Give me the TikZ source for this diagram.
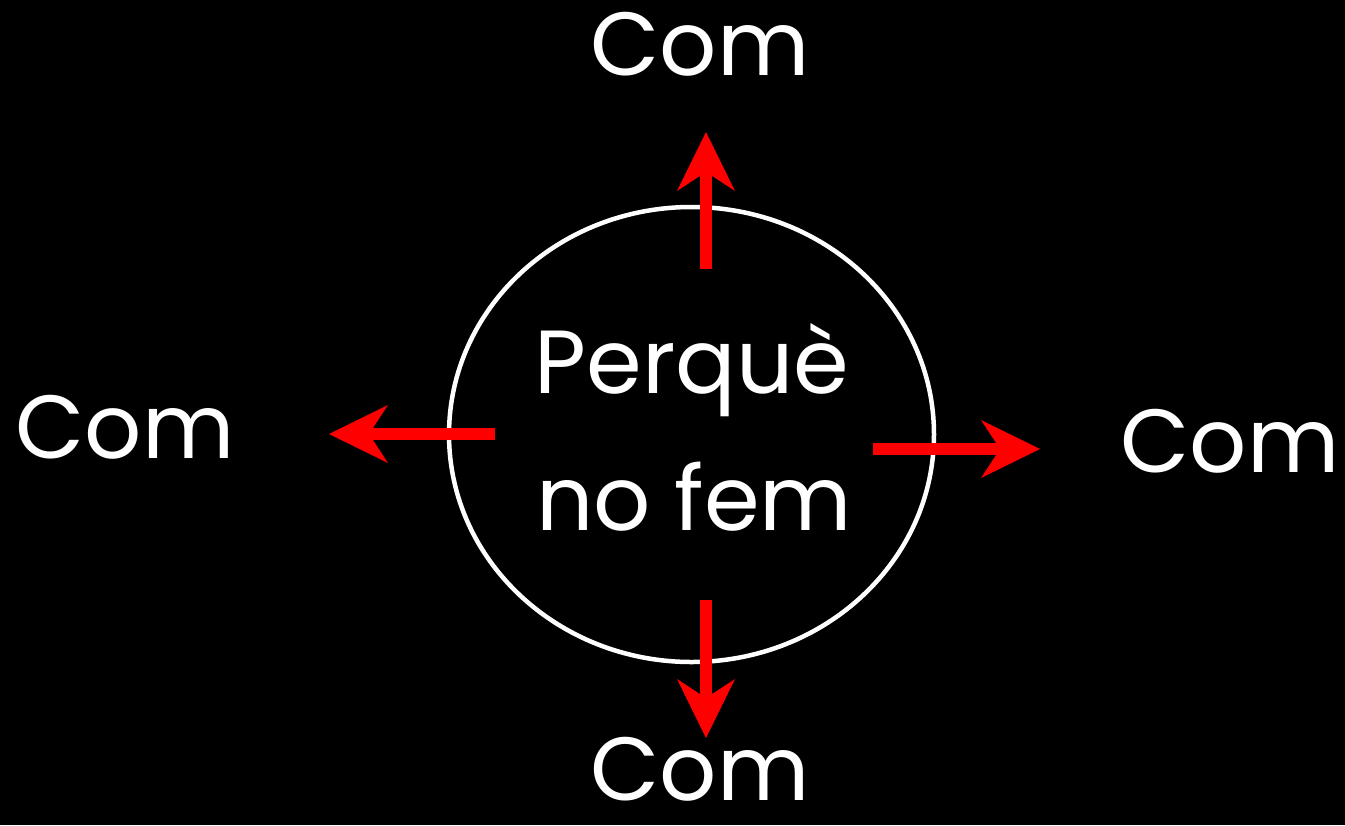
\documentclass[tikz,border=0pt]{standalone}
\usepackage{fontspec}
\setmainfont{Poppins}
\usetikzlibrary{arrows.meta}
\definecolor{arrowred}{RGB}{255,0,0}
\tikzset{
  lbl/.style={text=white, inner sep=0pt, font=\fontsize{51}{60}\selectfont, anchor=base},
  redarrow/.style={draw=arrowred, line width=0.24cm,
    -{Stealth[length=1.18cm, width=1.16cm, inset=0.38cm, line width=0pt, fill=arrowred]}},
}
\begin{document}
\begin{tikzpicture}[x=0.02cm, y=-0.02cm]
\fill[black] (0,0) rectangle (1345,825);
\useasboundingbox (0,0) rectangle (1345,825);
\draw[white, line width=0.09cm] (691.5,434.5) ellipse [x radius=242.5, y radius=227.5];
% centre text
\node[lbl] (l1) at (692,393) {Perquè};
\node[lbl] (l2) at (694,530) {no fem};
% outer labels
\node[lbl] (top) at (700,75) {Com};
\node[lbl] (bot) at (700,800) {Com};
\node[lbl] (lft) at (125,458) {Com};
\node[lbl] (rgt) at (1230,472) {Com};
% arrow anchors
\coordinate (us) at (706,269); \coordinate (ue) at (706,132);
\coordinate (ds) at (706,600); \coordinate (de) at (706,738);
\coordinate (ls) at (495,434); \coordinate (le) at (329,434);
\coordinate (rs) at (873,449); \coordinate (re) at (1040,449);
\draw[redarrow] (us) -- (ue);
\draw[redarrow] (ds) -- (de);
\draw[redarrow] (ls) -- (le);
\draw[redarrow] (rs) -- (re);
\end{tikzpicture}
\end{document}
